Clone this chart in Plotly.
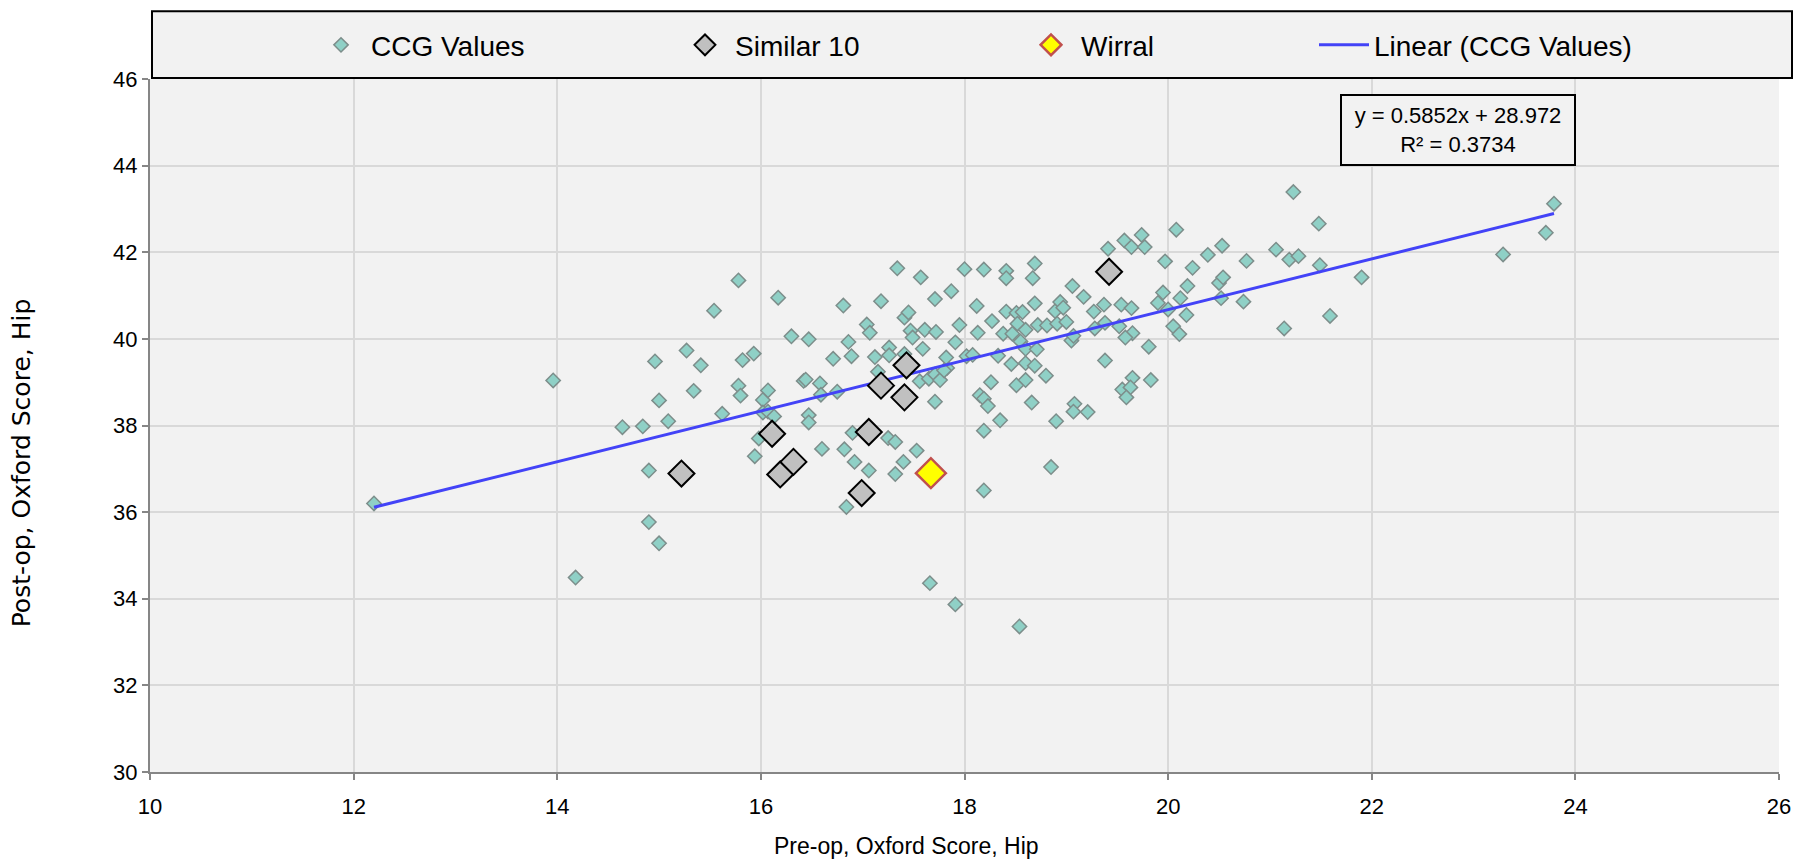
import plotly.graph_objects as go

# ---------------- data ----------------
ccg_x = [12.20, 13.96, 14.18, 14.64, 14.84, 14.96, 15.00, 14.90, 14.90, 15.00,
         15.09, 15.27, 15.34, 15.41, 15.54, 15.62, 15.78, 15.82, 15.78, 15.80,
         15.93, 15.94, 15.98, 16.02, 16.07, 16.02, 16.07, 16.13, 16.17, 16.30,
         16.47, 16.42, 16.44, 16.58, 16.59, 16.47, 16.47, 16.60, 16.71, 16.75,
         16.81, 16.86, 16.89, 16.90, 16.82, 16.92, 16.84, 17.04, 17.07, 17.12,
         17.15, 17.18, 17.26, 17.26, 17.25, 17.32, 17.34, 17.41, 17.45, 17.41,
         17.47, 17.49, 17.40, 17.32, 17.06, 17.53, 17.57, 17.59, 17.61, 17.56,
         17.65, 17.71, 17.72, 17.71, 17.76, 17.83, 17.71, 17.82, 17.80, 17.87,
         17.91, 17.95, 18.00, 18.02, 18.08, 18.12, 18.13, 18.15, 18.19, 18.23,
         18.19, 18.19, 18.19, 18.26, 18.27, 18.35, 18.33, 18.38, 18.41, 18.41,
         18.41, 18.46, 18.47, 18.51, 18.51, 18.52, 18.55, 18.57, 18.60, 18.60,
         18.60, 18.60, 18.66, 18.67, 18.69, 18.69, 18.71, 18.69, 18.72, 18.80,
         18.81, 18.91, 18.89, 18.94, 18.97, 19.00, 18.85, 18.90, 19.05, 19.07,
         19.06, 19.17, 19.08, 19.07, 19.21, 19.27, 19.28, 19.37, 19.38, 19.38,
         19.41, 19.54, 19.52, 19.57, 19.64, 19.64, 19.65, 19.58, 19.55, 19.65,
         19.63, 19.59, 19.74, 19.77, 19.81, 19.83, 19.90, 19.95, 19.97, 20.08,
         20.05, 20.11, 20.12, 20.19, 20.24, 20.18, 20.00, 20.39, 20.53, 20.50,
         20.54, 20.52, 20.77, 20.74, 21.06, 21.19, 21.28, 21.23, 21.48, 21.49,
         21.14, 21.59, 21.90, 23.29, 23.71, 23.79, 17.66, 17.91, 18.54]
ccg_y = [36.20, 39.04, 34.49, 37.96, 37.98, 39.48, 38.58, 36.96, 35.77, 35.28,
         38.10, 39.73, 38.80, 39.39, 40.65, 38.27, 41.35, 39.51, 38.92, 38.69,
         39.66, 37.29, 37.70, 38.59, 38.81, 38.30, 38.32, 38.21, 40.95, 40.06,
         39.99, 39.03, 39.06, 38.97, 38.71, 38.24, 38.07, 37.46, 39.54, 38.78,
         40.77, 39.93, 39.60, 37.83, 37.45, 37.16, 36.12, 40.33, 40.14, 39.58,
         39.24, 40.87, 39.80, 39.62, 37.71, 37.62, 41.63, 40.49, 40.61, 39.65,
         40.19, 40.03, 37.16, 36.88, 36.96, 37.42, 41.42, 39.77, 40.21, 39.02,
         39.08, 40.92, 40.16, 39.18, 39.05, 39.33, 38.55, 39.57, 39.27, 41.10,
         39.92, 40.32, 41.61, 39.60, 39.63, 40.76, 40.14, 38.70, 38.62, 38.45,
         37.88, 36.50, 41.60, 39.00, 40.41, 38.12, 39.61, 40.12, 41.57, 41.40,
         40.63, 39.42, 40.12, 40.60, 38.93, 40.35, 39.94, 40.62, 39.44, 39.77,
         39.05, 40.21, 38.53, 41.40, 41.74, 40.82, 39.76, 39.38, 40.32, 39.15,
         40.31, 40.35, 40.64, 40.85, 40.72, 40.39, 37.04, 38.10, 39.96, 40.07,
         41.22, 40.97, 38.50, 38.32, 38.31, 40.63, 40.24, 40.79, 39.50, 40.37,
         42.08, 40.79, 40.29, 42.27, 42.12, 40.71, 40.13, 40.03, 38.83, 39.10,
         38.88, 38.65, 42.40, 42.12, 39.82, 39.05, 40.83, 41.07, 41.79, 42.52,
         40.29, 40.11, 40.94, 41.22, 41.64, 40.55, 40.68, 41.94, 42.15, 41.29,
         41.42, 40.94, 41.80, 40.86, 42.06, 41.83, 41.91, 43.39, 42.66, 41.70,
         40.24, 40.53, 41.42, 41.95, 42.45, 43.12, 34.36, 33.87, 33.36]

similar_x = [15.22, 16.11, 16.19, 16.32, 16.99, 17.06, 17.18, 17.41, 17.43, 19.42]
similar_y = [36.89, 37.81, 36.87, 37.16, 36.44, 37.85, 38.92, 38.65, 39.39, 41.55]

wirral_x = [17.67]
wirral_y = [36.90]

trend_slope = 0.5852
trend_intercept = 28.972
trend_r2 = 0.3734

x_ticks = [10, 12, 14, 16, 18, 20, 22, 24, 26]
y_ticks = [30, 32, 34, 36, 38, 40, 42, 44, 46]

series_names = ["CCG Values", "Similar 10", "Wirral", "Linear (CCG Values)"]
x_title = "Pre-op, Oxford Score, Hip"
y_title = "Post-op, Oxford Score, Hip"

# ---------------- figure ----------------
SANS = "Liberation Sans Narrow, Liberation Sans, Arial, sans-serif"

trend_x = [min(ccg_x), max(ccg_x)]
trend_y = [trend_slope * v + trend_intercept for v in trend_x]

fig = go.Figure()
fig.add_trace(go.Scatter(
    x=ccg_x, y=ccg_y, mode="markers", name=series_names[0], legend="legend",
    marker=dict(symbol="diamond", size=11, color="#8FD0C6",
                line=dict(color="#7D8E8B", width=1.5)),
))
fig.add_trace(go.Scatter(
    x=trend_x, y=trend_y, mode="lines", name=series_names[3], legend="legend4",
    line=dict(color="#4343F7", width=3),
))
fig.add_trace(go.Scatter(
    x=similar_x, y=similar_y, mode="markers", name=series_names[1], legend="legend2",
    marker=dict(symbol="diamond", size=20, color="#C0C0C0",
                line=dict(color="#000000", width=2)),
))
fig.add_trace(go.Scatter(
    x=wirral_x, y=wirral_y, mode="markers", name=series_names[2], legend="legend3",
    marker=dict(symbol="diamond", size=23, color="#FFFF00",
                line=dict(color="#C0504D", width=2.5)),
))

# page is rendered with an 8px body margin: work in page pixels
OFF = 8
PAGE_W, PAGE_H = 1810, 862
PLOT_L, PLOT_R, PLOT_T, PLOT_B = 150, 1779, 76, 772
W, H = PAGE_W - OFF, PAGE_H - OFF
L, T = PLOT_L - OFF, PLOT_T - OFF
R = W - (PLOT_R - OFF)
B = H - (PLOT_B - OFF)
pw, ph = PLOT_R - PLOT_L, PLOT_B - PLOT_T


def px(xp):
    return (xp - PLOT_L) / pw


def py(yp):
    return (PLOT_B - yp) / ph


leg_font = dict(family=SANS, size=28, color="#000000")
leg_common = dict(orientation="h", bgcolor="rgba(0,0,0,0)", borderwidth=0,
                  font=leg_font, yanchor="middle", xanchor="left", y=py(42),
                  itemsizing="trace", itemwidth=50)

fig.update_layout(
    width=W, height=H,
    margin=dict(l=L, r=R, t=T, b=B),
    paper_bgcolor="#FFFFFF",
    plot_bgcolor="#F2F2F2",
    showlegend=True,
    legend=dict(x=px(311), **leg_common),
    legend2=dict(x=px(675), **leg_common),
    legend3=dict(x=px(1021), **leg_common),
    legend4=dict(x=px(1314), **leg_common),
    xaxis=dict(
        range=[10, 26], tickvals=x_ticks, showgrid=True, gridcolor="#D9D9D9", gridwidth=2,
        showline=True, linecolor="#868686", linewidth=2, zeroline=False,
        ticks="outside", ticklen=6, tickcolor="#868686", tickwidth=2,
        ticklabelstandoff=8,
        tickfont=dict(family=SANS, size=22, color="#000000"),
    ),
    yaxis=dict(
        range=[30, 46], tickvals=y_ticks, showgrid=True, gridcolor="#D9D9D9", gridwidth=2,
        showline=True, linecolor="#868686", linewidth=2, zeroline=False,
        ticks="outside", ticklen=6, tickcolor="#868686", tickwidth=2,
        tickfont=dict(family=SANS, size=22, color="#000000"),
    ),
    shapes=[dict(
        type="rect", xref="paper", yref="paper",
        x0=px(152), x1=px(1792), y0=py(75), y1=py(8),
        line=dict(color="#000000", width=2), fillcolor="#F2F2F2", layer="below",
    )],
    annotations=[
        dict(
            xref="paper", yref="paper", x=px(1458), y=py(127.5),
            xanchor="center", yanchor="middle", showarrow=False,
            text=f"y = {trend_slope}x + {trend_intercept}<br>R² = {trend_r2}",
            font=dict(family=SANS, size=22, color="#000000"),
            bgcolor="#F2F2F2", bordercolor="#000000", borderwidth=2, borderpad=3,
            width=226, height=62, align="center",
        ),
        dict(
            xref="paper", yref="paper", x=px(906), y=py(846),
            xanchor="center", yanchor="middle", showarrow=False,
            text=x_title, font=dict(family=SANS, size=23, color="#000000"),
        ),
        dict(
            xref="paper", yref="paper", x=px(21), y=py(462),
            xanchor="center", yanchor="middle", showarrow=False, textangle=-90,
            text=y_title, font=dict(family="DejaVu Sans, Verdana, sans-serif", size=25, color="#000000"),
        ),
    ],
)

fig.write_html("out.html")
